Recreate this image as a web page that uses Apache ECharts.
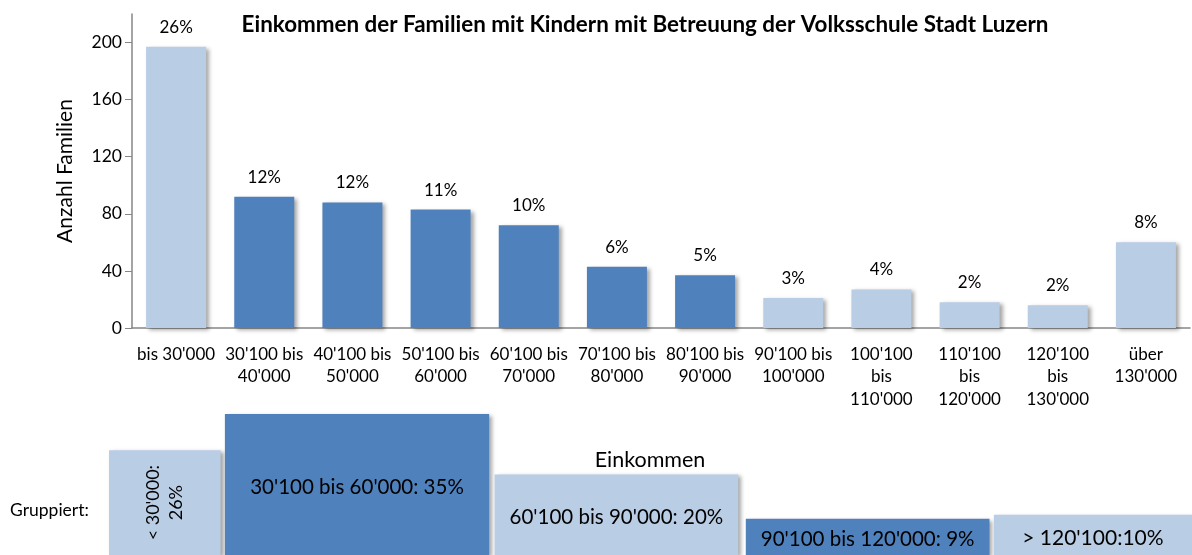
<!DOCTYPE html>
<html>
<head>
<meta charset="utf-8">
<script src="https://cdn.jsdelivr.net/npm/echarts@6/dist/echarts.min.js"></script>
<style>
  html, body { margin: 0; padding: 0; background: #fff; }
  #chart { width: 1192px; height: 555px; }
</style>
</head>
<body>
<div id="chart"></div>
<script>
// Einkommensklassen (obere Grafik)
const categories = [
  'bis 30\'000', '30\'100 bis\n40\'000', '40\'100 bis\n50\'000', '50\'100 bis\n60\'000',
  '60\'100 bis\n70\'000', '70\'100 bis\n80\'000', '80\'100 bis\n90\'000', '90\'100 bis\n100\'000',
  '100\'100\nbis\n110\'000', '110\'100\nbis\n120\'000', '120\'100\nbis\n130\'000', 'über\n130\'000'
]
const families = [197, 92, 88, 83, 72, 43, 37, 21, 27, 18, 16, 60]
const shares = ['26%', '12%', '12%', '11%', '10%', '6%', '5%', '3%', '4%', '2%', '2%', '8%']
const yTicks = [0, 40, 80, 120, 160, 200]

// Gruppiert (untere Grafik)
const groupLabels = ['< 30\'000:\n26%', '30\'100 bis 60\'000: 35%', '60\'100 bis 90\'000: 20%',
  '90\'100 bis 120\'000: 9%', '> 120\'100:10%']
const groupShares = [26, 35, 20, 9, 10]
const groupStart = [0, 10.7, 35.6, 58.8, 81.7]
const groupEnd = [10.3, 35.1, 58.1, 81.3, 100]

const LIGHT = '#B9CDE5'
const DARK = '#4F81BD'
const FONT = 'Lato, "Open Sans", sans-serif'
const darkBars = [1, 2, 3, 4, 5, 6]
const darkGroups = [1, 3]
// text boxes in the original use different sizes
const groupFontSize = [18, 20.5, 20.5, 20.5, 21]

const chart = echarts.init(document.getElementById('chart'))

chart.setOption({
  animation: false,
  textStyle: { fontFamily: FONT },
  title: [{
    text: 'Einkommen der Familien mit Kindern mit Betreuung der Volksschule Stadt Luzern',
    left: 640,
    top: 9,
    textAlign: 'center',
    textStyle: { fontSize: 22.4, fontWeight: 'bold', color: '#000', fontFamily: FONT }
  }, {
    text: 'Gruppiert:',
    left: 5,
    top: 496,
    textStyle: { fontSize: 17.5, fontWeight: 'normal', color: '#000', fontFamily: FONT }
  }, {
    text: 'Einkommen',
    left: 645,
    top: 444,
    textAlign: 'center',
    textStyle: { fontSize: 21.5, fontWeight: 'normal', color: '#000', fontFamily: FONT }
  }],
  grid: [
    { left: 132, right: 2, top: 14, bottom: 227 },
    { left: 109, right: 0, top: 414, bottom: 0 }
  ],
  xAxis: [{
    gridIndex: 0,
    type: 'category',
    data: categories,
    axisLine: { lineStyle: { color: '#868686', width: 1.5 } },
    axisTick: { show: false },
    axisLabel: {
      interval: 0,
      color: '#000',
      fontSize: 17,
      lineHeight: 22.5,
      margin: 15,
      fontFamily: FONT
    }
  }, {
    gridIndex: 1,
    type: 'value',
    min: 0,
    max: 100,
    show: false
  }],
  yAxis: [{
    gridIndex: 0,
    type: 'value',
    min: 0,
    max: 220,
    name: 'Anzahl Familien',
    nameLocation: 'middle',
    nameGap: 56,
    nameTextStyle: { fontSize: 21, color: '#000', fontFamily: FONT },
    axisLine: { show: true, lineStyle: { color: '#868686', width: 1.5 } },
    axisTick: { show: true, length: 7, customValues: yTicks, lineStyle: { color: '#868686' } },
    axisLabel: { customValues: yTicks, color: '#000', fontSize: 17.5, margin: 10, fontFamily: FONT },
    splitLine: { show: false }
  }, {
    gridIndex: 1,
    type: 'value',
    min: 0,
    max: 35,
    show: false
  }],
  series: [{
    type: 'bar',
    xAxisIndex: 0,
    yAxisIndex: 0,
    barWidth: 60,
    data: families.map((v, i) => ({
      value: v,
      itemStyle: { color: darkBars.includes(i) ? DARK : LIGHT }
    })),
    itemStyle: {
      shadowColor: 'rgba(0,0,0,0.35)',
      shadowBlur: 4,
      shadowOffsetX: 3,
      shadowOffsetY: 2
    },
    label: {
      show: true,
      position: 'top',
      distance: 11,
      color: '#000',
      fontSize: 17,
      fontFamily: FONT,
      formatter: p => shares[p.dataIndex]
    }
  }, {
    type: 'custom',
    xAxisIndex: 1,
    yAxisIndex: 1,
    data: groupShares.map((v, i) => [groupStart[i], groupEnd[i], v]),
    encode: { x: [0, 1], y: 2 },
    renderItem: (params, api) => {
      const i = params.dataIndex
      const p0 = api.coord([api.value(0), api.value(2)])
      const p1 = api.coord([api.value(1), 0])
      return {
        type: 'rect',
        shape: { x: p0[0], y: p0[1], width: p1[0] - p0[0], height: p1[1] - p0[1] },
        style: {
          fill: darkGroups.includes(i) ? DARK : LIGHT,
          shadowColor: 'rgba(0,0,0,0.35)',
          shadowBlur: 4,
          shadowOffsetX: 3,
          shadowOffsetY: 2
        },
        textContent: {
          style: {
            text: groupLabels[i],
            fill: '#000',
            fontSize: groupFontSize[i],
            fontFamily: FONT,
            align: 'center',
            lineHeight: groupFontSize[i] * 1.3
          }
        },
        textConfig: {
          position: 'inside',
          offset: i === 0 ? [0, 0] : [0, 3],
          rotation: i === 0 ? Math.PI / 2 : 0
        }
      }
    }
  }]
})
</script>
</body>
</html>
